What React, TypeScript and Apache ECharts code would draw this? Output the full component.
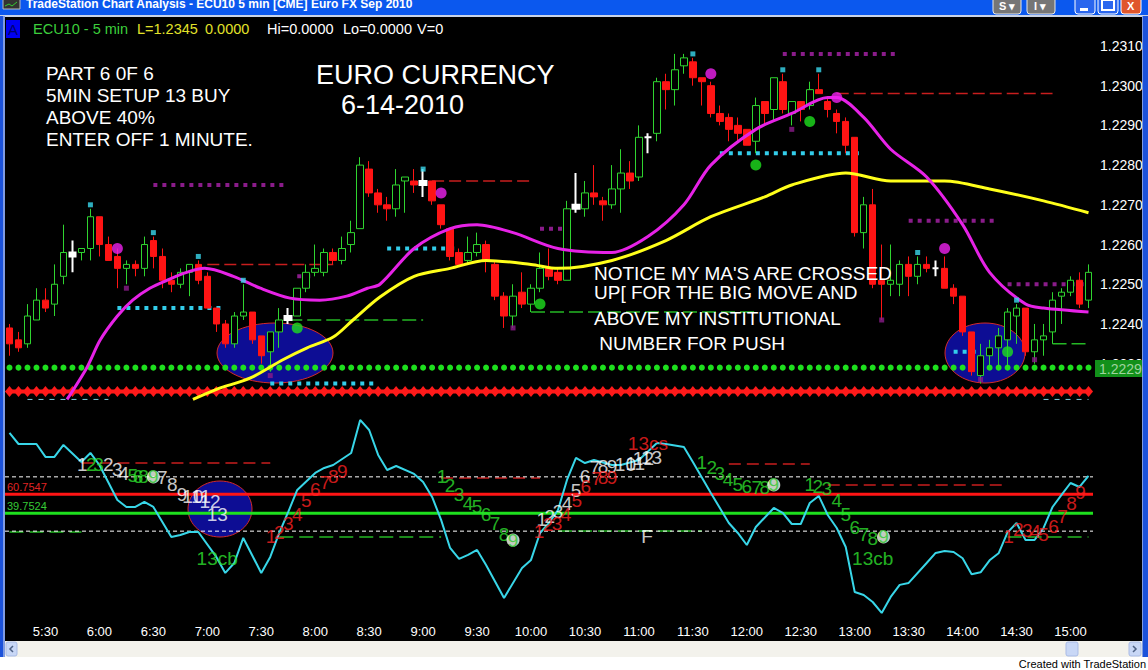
import React, { useEffect, useRef } from "react";
import * as echarts from "echarts";

// ---------- bars: 5-minute ECU10 (Euro FX Sep 2010), 5:10 – 15:10 ----------
const sessionStart = 5 * 60 + 10;
const barCount = 121;
const times: string[] = Array.from({ length: barCount }, (_, i) => {
  const m = sessionStart + 5 * i;
  return `${Math.floor(m / 60)}:${String(m % 60).padStart(2, "0")}`;
});

const opens = [
  1.2239, 1.2236, 1.2235, 1.2241, 1.2246, 1.2245, 1.2252, 1.2258, 1.2258, 1.2259,
  1.2267, 1.226, 1.2257, 1.2254, 1.2255, 1.2254, 1.2261, 1.2257, 1.2251, 1.225,
  1.2253, 1.2255, 1.2252, 1.2244, 1.224, 1.2235, 1.2242, 1.2243, 1.2237, 1.2233,
  1.2238, 1.2241, 1.2242, 1.2249, 1.2253, 1.2253, 1.2258, 1.2256, 1.226, 1.2264,
  1.2279, 1.2273, 1.227, 1.2269, 1.2276, 1.2276, 1.2276, 1.2276, 1.227, 1.2264,
  1.2258, 1.2256, 1.2258, 1.226, 1.2255, 1.2247, 1.2242, 1.2248, 1.2245, 1.2249,
  1.2254, 1.2253, 1.2251, 1.227, 1.2269, 1.2273, 1.2271, 1.227, 1.2274, 1.2278,
  1.2277, 1.2287, 1.2288, 1.2301, 1.2299, 1.2305, 1.2306, 1.2302, 1.23, 1.2293,
  1.2292, 1.229, 1.2289, 1.2286, 1.2296, 1.2294, 1.2301, 1.2293, 1.2296, 1.2295,
  1.2299, 1.2296, 1.2293, 1.2291, 1.2287, 1.2263, 1.227, 1.2251, 1.225, 1.225,
  1.2255, 1.2252, 1.2255, 1.2254, 1.2254, 1.2249, 1.2247, 1.2238, 1.2227, 1.2232,
  1.2234, 1.2236, 1.2242, 1.2244, 1.2233, 1.2236, 1.2238, 1.2247, 1.2248, 1.2251, 1.2246,
];
const closes = [
  1.2235, 1.2234, 1.2242, 1.2246, 1.2244, 1.225, 1.2258, 1.2257, 1.2259, 1.2267,
  1.226, 1.2256, 1.2254, 1.2255, 1.2254, 1.226, 1.2257, 1.2251, 1.225, 1.2253,
  1.2255, 1.2251, 1.2244, 1.224, 1.2235, 1.2242, 1.2243, 1.2236, 1.2232, 1.2238,
  1.2241, 1.2242, 1.2249, 1.2253, 1.2254, 1.2258, 1.2256, 1.2259, 1.2263, 1.228,
  1.2273, 1.227, 1.2269, 1.2275, 1.2277, 1.2275, 1.2275, 1.2271, 1.2265, 1.2257,
  1.2255, 1.2258, 1.226, 1.2256, 1.2247, 1.2242, 1.2247, 1.2245, 1.2249, 1.2254,
  1.2252, 1.2251, 1.2269, 1.2269, 1.2273, 1.2272, 1.227, 1.2274, 1.2278, 1.2276,
  1.2287, 1.2287, 1.2301, 1.2299, 1.2304, 1.2307, 1.2302, 1.2301, 1.2293, 1.2291,
  1.2289, 1.2288, 1.2285, 1.2295, 1.2293, 1.2302, 1.2294, 1.2296, 1.2294, 1.2299,
  1.2298, 1.2294, 1.2291, 1.2285, 1.2263, 1.227, 1.225, 1.225, 1.2251, 1.2255,
  1.2252, 1.2255, 1.2254, 1.2254, 1.2249, 1.2247, 1.2238, 1.2228, 1.2232, 1.2234,
  1.2237, 1.2243, 1.2244, 1.2233, 1.2236, 1.2237, 1.2246, 1.2248, 1.2251, 1.2245, 1.2253,
];
const lows = [
  1.2232, 1.2233, 1.2234, 1.2241, 1.2243, 1.2242, 1.225, 1.2253, 1.2256, 1.2256,
  1.2257, 1.2256, 1.2249, 1.225, 1.2252, 1.2252, 1.2254, 1.2249, 1.2248, 1.2249,
  1.2247, 1.225, 1.2244, 1.2238, 1.2234, 1.2234, 1.2241, 1.2235, 1.223, 1.2228,
  1.2234, 1.224, 1.2242, 1.2248, 1.2252, 1.2252, 1.2255, 1.2255, 1.2258, 1.2264,
  1.2272, 1.2268, 1.2266, 1.2267, 1.2268, 1.2273, 1.2272, 1.227, 1.2264, 1.2256,
  1.2255, 1.2255, 1.2257, 1.2253, 1.2246, 1.2239, 1.2239, 1.2244, 1.2243, 1.2248,
  1.2251, 1.225, 1.2251, 1.2268, 1.2267, 1.227, 1.2266, 1.2269, 1.2268, 1.2274,
  1.2276, 1.2283, 1.2286, 1.2294, 1.2295, 1.2303, 1.23, 1.2295, 1.2292, 1.229,
  1.2286, 1.2286, 1.2285, 1.2283, 1.229, 1.2291, 1.2293, 1.229, 1.2291, 1.2294,
  1.2298, 1.2292, 1.2288, 1.2283, 1.2262, 1.2259, 1.2249, 1.2241, 1.2247, 1.2247,
  1.2247, 1.225, 1.2253, 1.2252, 1.2249, 1.2245, 1.2237, 1.2227, 1.2225, 1.2229,
  1.2229, 1.2229, 1.2235, 1.2232, 1.223, 1.2232, 1.2235, 1.224, 1.2247, 1.2244, 1.2244,
];
const highs = [
  1.224, 1.2238, 1.2245, 1.2249, 1.2249, 1.2255, 1.2265, 1.2261, 1.2259, 1.2269,
  1.2267, 1.2262, 1.2259, 1.2256, 1.2256, 1.2262, 1.2262, 1.2259, 1.2253, 1.2254,
  1.2255, 1.2256, 1.2253, 1.2244, 1.2241, 1.2243, 1.225, 1.2243, 1.2237, 1.2238,
  1.2244, 1.2244, 1.2249, 1.2255, 1.226, 1.2259, 1.2259, 1.2262, 1.2266, 1.2282,
  1.2281, 1.2274, 1.2272, 1.2279, 1.2277, 1.2279, 1.2279, 1.2276, 1.227, 1.2264,
  1.2259, 1.2262, 1.2263, 1.2261, 1.2256, 1.2248, 1.225, 1.2253, 1.225, 1.2258,
  1.2259, 1.2254, 1.2271, 1.2278, 1.2276, 1.228, 1.2272, 1.228, 1.2284, 1.2281,
  1.229, 1.2288, 1.2302, 1.2303, 1.2308, 1.2308, 1.2307, 1.2302, 1.2301, 1.2295,
  1.2293, 1.2292, 1.2289, 1.2297, 1.2296, 1.2302, 1.2303, 1.2296, 1.2296, 1.2301,
  1.2303, 1.2297, 1.2294, 1.2292, 1.2287, 1.2272, 1.2274, 1.226, 1.226, 1.2256,
  1.2257, 1.2257, 1.2257, 1.2256, 1.2257, 1.225, 1.2247, 1.2238, 1.2235, 1.2236,
  1.2239, 1.2244, 1.2245, 1.2244, 1.224, 1.224, 1.2248, 1.2249, 1.2252, 1.2253, 1.2255,
];
// bars painted white by the signal study
const signalBars = [7, 31, 46, 63, 71, 103];

// moving averages, [bar, price]
const fastMA: [number, number][] = [
  [6.4, 1.2221], [8.6, 1.2229], [10.1, 1.2236], [12, 1.2242], [13.7, 1.2246], [15.6, 1.2249],
  [17.5, 1.2251], [19.7, 1.2253], [21.7, 1.2254], [24.9, 1.2252], [27.9, 1.2249], [31.2, 1.22465],
  [34.5, 1.2246], [37.5, 1.2247], [39.8, 1.2249], [41.2, 1.225], [45, 1.2259],
  [49, 1.2264], [52, 1.2265], [56, 1.2263], [61, 1.2259], [67, 1.2258], [71, 1.2262],
  [75, 1.227], [78, 1.228], [83, 1.2289], [87, 1.2293], [91, 1.2297], [92, 1.2297],
  [95, 1.2292], [98, 1.2284], [102, 1.2277], [106, 1.2265], [109, 1.2253],
  [113, 1.2245], [115, 1.2244], [120, 1.2243],
];
const slowMA: [number, number][] = [
  [20.4, 1.2221], [23.1, 1.22236], [26.8, 1.22264], [30.4, 1.2231], [33.1, 1.2234], [36, 1.22367],
  [38.2, 1.2241], [41.2, 1.22468], [45, 1.2252], [49, 1.2254], [53, 1.2256], [58, 1.2255],
  [61, 1.2254], [67, 1.2256], [73, 1.2261], [78, 1.2267], [84, 1.2272], [87, 1.2275],
  [93, 1.2278], [98, 1.2276], [104, 1.2276], [109, 1.2274], [115, 1.2271], [120, 1.2268],
];

// horizontal study levels
const supportRow = 1.2229;
const pivotRow = 1.2223;
type Seg = [number, number, number]; // from bar, to bar, level
const cyanDotted: Seg[] = [[12, 24, 1.2244], [42, 50, 1.2259], [79, 95, 1.2283], [29, 41, 1.2225], [105, 108, 1.2233]];
const purpleDotted: Seg[] = [[16, 31, 1.2275], [32, 34, 1.2252], [59, 63, 1.2264], [86, 99, 1.2308], [100, 110, 1.2266], [111, 120, 1.225]];
const redDashed: Seg[] = [[22, 36, 1.2255], [47, 58, 1.2276], [92, 116, 1.2298]];
const greenDashed: Seg[] = [[31, 46, 1.2241], [58, 83, 1.2243], [116, 120, 1.2235]];
const lowDashed: Seg[] = [[2, 11, 1.2221], [115, 120, 1.2221]];

// study dots, [bar, price]
const magentaDots: [number, number][] = [[12, 1.2259], [48, 1.2273], [78, 1.2303], [92, 1.2297], [104, 1.2259]];
const greenDots: [number, number][] = [[32, 1.2239], [59, 1.2245], [83, 1.228], [89, 1.2291], [111, 1.2233]];
const cyanPips: [number, number][] = [[9, 1.227], [16, 1.2263], [21, 1.2257], [26, 1.2251], [46, 1.2279], [76, 1.2308], [86, 1.2304], [90, 1.2304], [101, 1.2258], [112, 1.2246]];
const purplePips: [number, number][] = [[13, 1.2249], [29, 1.2227], [56, 1.2239], [87, 1.2289], [97, 1.2241], [108, 1.2226], [114, 1.2231]];

// oscillator, [bar, value]
const oscillator: [number, number][] = [
  [0, 128.5], [1, 116.3], [3, 116.3], [4, 102], [5, 102], [6, 115.3], [8, 96.5], [9, 106.4], [10, 93.1],
  [12, 54.4], [13, 46.7], [14, 46.7], [15, 52.3], [16, 46.7], [18, 13.6], [19, 15.8], [20, 19.1], [21, 19.1],
  [23, -8.5], [24, -26.2], [25, -15.2], [26, 12.5], [28, -26.2], [29, -8.5], [30, 18], [31, 41.2], [32, 65.5],
  [34, 84.3], [35, 89.8], [36, 93.1], [38, 106.4], [39, 142.9], [40, 131.8], [41, 104.2], [42, 87.6], [43, 92],
  [45, 83.2], [46, 74.3], [47, 57.8], [48, 32.4], [49, 1.4], [50, -10.7], [51, -6.3], [52, -0.8], [53, -17.4],
  [55, -53.8], [57, -20.7], [58, -11.8], [59, 18], [60, 29], [61, 43.4], [62, 76.6], [63, 100.9], [64, 95.3],
  [65, 98.6], [67, 93.1], [68, 93.1], [70, 98.6], [72, 117.4], [73, 116.3], [75, 113], [76, 96.4], [78, 62.2],
  [80, 29], [81, 18], [82, 4.7], [83, 24.6], [85, 45.6], [86, 40.1], [87, 27.9], [88, 27.9], [89, 51.1],
  [90, 58.9], [91, 37.9], [92, 23.5], [93, 2.5], [94, -47.2], [95, -50.5], [96, -58.3], [97, -70.4], [98, -52.7],
  [99, -39.4], [100, -37.2], [102, -15.2], [103, -4.1], [104, -1.9], [105, -3], [106, -10], [107, -27.7],
  [108, -25.5], [109, -12.2], [110, -4.5], [111, 18.7], [112, 29], [113, 10.2], [114, 10.2], [115, 23.5],
  [116, 46.7], [117, 60], [118, 73.2], [119, 68.8], [120, 81],
];
const upperBand = 60.7547;
const lowerBand = 39.7524;
const overbought = 80;
const oversold = 20;
const oscRedDashed: Seg[] = [[8, 29, 95.3], [48, 59, 78.8], [80, 89, 94.2], [91, 111, 71]];
const oscGreenDashed: Seg[] = [[0, 8, 19.1], [30, 48, 13.6], [61, 77, 20.2], [111, 120, 13.6]];

// setup / countdown counts, [bar, value, text]
type Count = [number, number, string];
const whiteCounts: Count[] = [
  [8.1, 93.1, "1"], [11, 94.2, "2"], [12, 87.6, "3"], [12.7, 83.2, "4"], [17, 78.8, "7"], [18.1, 71, "8"],
  [19.2, 60, "9"], [20.4, 57.8, "10"], [21.3, 57.8, "11"], [22.3, 52.3, "12"], [23.1, 37.9, "13"],
  [59.2, 32.4, "1"], [60.1, 35.7, "2"], [61, 41.2, "3"], [62, 51.1, "4"], [63, 64.4, "5"], [64, 79.9, "6"],
  [65.1, 89.8, "7"], [66, 90.9, "8"], [67, 90.9, "9"], [68.5, 94.2, "10"], [69.6, 95.3, "11"],
  [70.5, 99.8, "12"], [71.4, 100.9, "13"], [70.9, 13.6, "F"],
];
const greenCounts: Count[] = [
  [9.1, 94.2, "2"], [9.9, 93.1, "3"], [13.7, 81, "5"], [14.3, 79.9, "6"], [14.9, 79.9, "8"], [23.1, -10.7, "13cb"],
  [48.1, 79.9, "1"], [49, 69.9, "2"], [50, 60, "3"], [51, 50, "4"], [52, 46.7, "5"], [53, 37.9, "6"],
  [54, 27.9, "7"], [55, 15.8, "8"],
  [77, 96.4, "1"], [78.1, 89.8, "2"], [79, 83.2, "3"], [79.9, 76.6, "4"], [81, 71, "5"], [82, 68.8, "6"],
  [83.1, 67.7, "7"], [84, 67.7, "8"],
  [89, 71, "1"], [89.9, 68.8, "2"], [90.9, 66.6, "3"], [92, 54.4, "4"], [93, 37.9, "5"], [94, 23.5, "6"],
  [95, 15.8, "7"], [96, 11.4, "8"], [96, -10.7, "13cb"],
];
const greenNines: Count[] = [[16, 79.9, "9"], [56, 10.2, "9"], [85, 71, "9"], [97.2, 13.6, "9"]];
const redCounts: Count[] = [
  [29.1, 13.6, "1"], [30, 18, "2"], [31, 29, "3"], [32, 37.9, "4"], [33, 54.4, "5"], [34, 65.5, "6"],
  [35.1, 74.3, "7"], [36, 79.9, "8"], [37, 85.4, "9"],
  [58.9, 19.1, "1"], [59.9, 26.8, "2"], [60.9, 29, "3"], [61.9, 37.9, "4"], [63.1, 53.4, "5"], [64.1, 68.8, "6"],
  [65.3, 77.7, "7"], [66, 78.8, "8"], [67, 78.8, "9"], [71, 117.4, "13cs"],
  [111.1, 13.6, "1"], [112.2, 21.3, "2"], [113.2, 20.2, "3"], [114.1, 19.1, "4"], [115, 15.8, "5"],
  [116.1, 24.6, "6"], [117.1, 35.7, "7"], [118.1, 51.1, "8"], [119.1, 62.2, "9"],
];

// axes
const priceMin = 1.222;
const priceMax = 1.2315;
const priceStep = 0.001;
const oscMin = -80.4;
const oscMax = 159.4;
const lastPrice = 1.2229;

const SANS = '"Liberation Sans", Arial, sans-serif';
const NARROW = '"Liberation Sans Narrow", "Liberation Sans", Arial, sans-serif';

const UP = "#2fd42f";
const DOWN = "#ff1414";

function segments(segs: Seg[], color: string, width: number, dash: number[], xi: number, yi: number, z: number) {
  return segs.map(([a, b, lv]) => ({
    type: "line",
    xAxisIndex: xi,
    yAxisIndex: yi,
    data: [[a, lv], [b, lv]],
    symbol: "none",
    silent: true,
    z,
    lineStyle: { color, width, type: dash, cap: "butt" },
  }));
}

function levelLine(level: number, color: string, width: number, dash: any) {
  return {
    type: "line",
    xAxisIndex: 3,
    yAxisIndex: 1,
    data: [[-0.5, level], [barCount - 0.5, level]],
    symbol: "none",
    silent: true,
    z: 3,
    lineStyle: { color, width, type: dash },
  };
}

function countSeries(pts: Count[], color: string, z: number) {
  return {
    type: "scatter",
    xAxisIndex: 3,
    yAxisIndex: 1,
    symbolSize: 1,
    silent: true,
    z,
    itemStyle: { color: "rgba(0,0,0,0)" },
    data: pts.map(([x, y, t]) => ({ value: [x, y], name: t })),
    label: { show: true, position: "inside", formatter: "{b}", color, fontSize: 19, fontFamily: SANS },
  };
}

function dots(pts: [number, number][], color: string, size: number, symbol: string, z: number) {
  return {
    type: "scatter",
    xAxisIndex: 2,
    yAxisIndex: 0,
    symbol,
    symbolSize: size,
    silent: true,
    z,
    itemStyle: { color },
    data: pts,
  };
}

function txt(x: number, y: number, text: string, fill: string, fontSize: number, extra: any = {}, z = 50) {
  return {
    type: "text",
    x,
    y,
    z,
    silent: true,
    style: { text, fill, fontSize, fontFamily: SANS, verticalAlign: "middle", align: "left", ...extra },
  };
}

function buildOption(): any {
  const candleData = opens.map((o, i) => {
    const item: any = { value: [o, closes[i], lows[i], highs[i]] };
    if (signalBars.includes(i)) {
      item.itemStyle = { color: "#ffffff", color0: "#ffffff", borderColor: "#ffffff", borderColor0: "#ffffff", borderWidth: 2 };
    }
    return item;
  });

  const notes = ["PART 6 0F 6", "5MIN SETUP 13 BUY", "ABOVE 40%", "ENTER OFF 1 MINUTE."];
  const notice = ["NOTICE MY MA'S ARE CROSSED", "UP[ FOR THE BIG MOVE AND", "ABOVE MY INSTITUTIONAL", " NUMBER FOR PUSH"];
  const noticeY = [273, 292, 318, 343];

  const chrome: any[] = [
    // title bar
    { type: "rect", z: 100, shape: { x: 0, y: 0, width: 1148, height: 16 }, style: { fill: "#0b58ee" } },
    { type: "rect", z: 100, shape: { x: 0, y: 15, width: 1148, height: 2 }, style: { fill: "#c9d3e6" } },
    { type: "rect", z: 101, shape: { x: 3, y: -1, width: 17, height: 10 }, style: { fill: "#333", stroke: "#bbb", lineWidth: 1 } },
    { type: "polyline", z: 102, shape: { points: [[5, 6], [9, 4], [12, 6], [17, 2]] }, style: { stroke: "#3c3", lineWidth: 1, fill: null } },
    txt(26, 4, "TradeStation Chart Analysis - ECU10 5 min [CME] Euro FX Sep 2010", "#ffffff", 12, { fontWeight: "bold" }, 105),
    { type: "rect", z: 101, shape: { x: 993, y: -4, width: 28, height: 18, r: 3 }, style: { fill: "#767676", stroke: "#e8e8e8", lineWidth: 1 } },
    txt(999, 6, "S ▾", "#ffffff", 11, { fontWeight: "bold" }, 105),
    { type: "rect", z: 101, shape: { x: 1027, y: -4, width: 28, height: 18, r: 3 }, style: { fill: "#767676", stroke: "#e8e8e8", lineWidth: 1 } },
    txt(1034, 6, "I ▾", "#ffffff", 11, { fontWeight: "bold" }, 105),
    { type: "rect", z: 101, shape: { x: 1075, y: -4, width: 20, height: 18, r: 3 }, style: { fill: "#2a66ee", stroke: "#ffffff", lineWidth: 1 } },
    { type: "rect", z: 102, shape: { x: 1080, y: 8, width: 8, height: 3 }, style: { fill: "#ffffff" } },
    { type: "rect", z: 101, shape: { x: 1098, y: -4, width: 20, height: 18, r: 3 }, style: { fill: "#2a66ee", stroke: "#ffffff", lineWidth: 1 } },
    { type: "rect", z: 102, shape: { x: 1102, y: 0, width: 12, height: 10 }, style: { fill: null, stroke: "#ffffff", lineWidth: 2 } },
    { type: "rect", z: 101, shape: { x: 1121, y: -4, width: 20, height: 18, r: 3 }, style: { fill: "#e0562c", stroke: "#ffffff", lineWidth: 1 } },
    txt(1127, 6, "X", "#ffffff", 11, { fontWeight: "bold" }, 105),
    // window frame
    { type: "rect", z: 100, shape: { x: 0, y: 16, width: 3, height: 642 }, style: { fill: "#1c52da" } },
    { type: "rect", z: 100, shape: { x: 3, y: 16, width: 2, height: 642 }, style: { fill: "#7f9be2" } },
    { type: "rect", z: 100, shape: { x: 1142, y: 16, width: 1, height: 642 }, style: { fill: "#7f9be2" } },
    { type: "rect", z: 100, shape: { x: 1143, y: 16, width: 5, height: 642 }, style: { fill: "#1c52da" } },
    // scroll bar and footer
    { type: "rect", z: 100, shape: { x: 0, y: 657, width: 1148, height: 13 }, style: { fill: "#ffffff" } },
    { type: "rect", z: 100, shape: { x: 5, y: 641, width: 1137, height: 16 }, style: { fill: "#f3f2ec" } },
    { type: "rect", z: 101, shape: { x: 6, y: 642, width: 11, height: 14, r: 2 }, style: { fill: "#c8d7f6", stroke: "#a9bbe6", lineWidth: 1 } },
    { type: "polyline", z: 102, shape: { points: [[13, 646], [10, 649], [13, 652]] }, style: { stroke: "#4d6185", lineWidth: 1.5, fill: null } },
    { type: "rect", z: 101, shape: { x: 1066, y: 642, width: 12, height: 14, r: 2 }, style: { fill: "#c8d7f6", stroke: "#a9bbe6", lineWidth: 1 } },
    { type: "rect", z: 101, shape: { x: 1129, y: 642, width: 12, height: 14, r: 2 }, style: { fill: "#c8d7f6", stroke: "#a9bbe6", lineWidth: 1 } },
    { type: "polyline", z: 102, shape: { points: [[1133, 646], [1136, 649], [1133, 652]] }, style: { stroke: "#4d6185", lineWidth: 1.5, fill: null } },
    txt(1146, 664, "Created with TradeStation", "#000000", 11, { align: "right", fontFamily: NARROW }, 105),
    // symbol status line
    { type: "rect", z: 100, shape: { x: 6, y: 20, width: 14, height: 18 }, style: { fill: "#0000f2" } },
    txt(8, 29, "A", "#000070", 15, {}, 105),
    txt(33, 29, "ECU10 - 5 min", "#3ccf3c", 14.5),
    txt(137, 29, "L=1.2345", "#e2e22a", 14.5),
    txt(205, 29, "0.0000", "#e2e22a", 14.5),
    txt(267, 29, "Hi=0.0000", "#ffffff", 14.5),
    txt(343, 29, "Lo=0.0000", "#ffffff", 14.5),
    txt(417, 29, "V=0", "#ffffff", 14.5),
    // last price tag
    { type: "rect", z: 100, shape: { x: 1095, y: 360, width: 47, height: 17 }, style: { fill: "#12901a" } },
    txt(1099, 369, lastPrice.toFixed(4), "#9fd49f", 14, { fontFamily: NARROW }, 105),
    // band labels
    txt(7, 487, upperBand.toFixed(4), "#e02424", 11),
    txt(7, 506, lowerBand.toFixed(4), "#36c836", 11),
    // highlight ellipses
    { type: "ellipse", z: 1, shape: { cx: 275, cy: 353, rx: 58, ry: 30 }, style: { fill: "#0d0d94", stroke: "#d42a2a", lineWidth: 1 } },
    { type: "ellipse", z: 1, shape: { cx: 985, cy: 353, rx: 40, ry: 30 }, style: { fill: "#0d0d94", stroke: "#d42a2a", lineWidth: 1 } },
    { type: "ellipse", z: 1, shape: { cx: 220, cy: 509, rx: 32, ry: 28 }, style: { fill: "#0d0d94", stroke: "#d42a2a", lineWidth: 1 } },
    // notes
    ...notes.map((t, k) => txt(46, 73 + k * 22.3, t, "#ffffff", 19)),
    txt(316, 75, "EURO CURRENCY", "#ffffff", 27),
    txt(341, 105, "6-14-2010", "#ffffff", 27),
    ...notice.map((t, k) => txt(594, noticeY[k], t, "#ffffff", 19)),
  ];

  return {
    animation: false,
    backgroundColor: "#000000",
    grid: [
      { left: 5, right: 55, top: 26.1, height: 377.3 },
      { left: 5, right: 55, top: 405, height: 217 },
    ],
    xAxis: [
      { type: "category", gridIndex: 0, data: times, boundaryGap: true, show: false },
      {
        type: "category",
        gridIndex: 1,
        data: times,
        boundaryGap: true,
        axisLine: { show: false },
        axisTick: { show: false },
        splitLine: { show: false },
        axisLabel: {
          color: "#ffffff",
          fontSize: 13,
          fontFamily: NARROW,
          margin: 3,
          interval: (_i: number, v: string) => /:(00|30)$/.test(v),
        },
      },
      { type: "value", gridIndex: 0, min: -0.5, max: barCount - 0.5, show: false },
      { type: "value", gridIndex: 1, min: -0.5, max: barCount - 0.5, show: false },
    ],
    yAxis: [
      {
        type: "value",
        gridIndex: 0,
        position: "right",
        min: priceMin,
        max: priceMax,
        interval: priceStep,
        splitLine: { show: false },
        axisLine: { show: false },
        axisTick: { show: false },
        axisLabel: {
          color: "#ffffff",
          fontSize: 14,
          fontFamily: NARROW,
          margin: 7,
          showMaxLabel: false,
          showMinLabel: false,
          formatter: (v: number) => (v > priceMax - priceStep / 2 ? "" : v.toFixed(4)),
        },
      },
      { type: "value", gridIndex: 1, min: oscMin, max: oscMax, show: false, splitLine: { show: false } },
    ],
    graphic: { elements: chrome },
    series: [
      {
        type: "candlestick",
        xAxisIndex: 0,
        yAxisIndex: 0,
        barWidth: 7,
        z: 3,
        silent: true,
        itemStyle: { color: "#000000", color0: DOWN, borderColor: UP, borderColor0: DOWN, borderWidth: 1 },
        data: candleData,
      },
      {
        type: "line",
        xAxisIndex: 0,
        yAxisIndex: 0,
        data: times.map(() => supportRow),
        symbol: "circle",
        symbolSize: 6,
        showAllSymbol: true,
        silent: true,
        z: 2,
        itemStyle: { color: "#1ee01e" },
        lineStyle: { width: 0, opacity: 0 },
      },
      {
        type: "line",
        xAxisIndex: 0,
        yAxisIndex: 0,
        data: times.map(() => pivotRow),
        symbol: "diamond",
        symbolSize: [9, 11],
        showAllSymbol: true,
        silent: true,
        z: 2,
        itemStyle: { color: "#ff1a1a" },
        lineStyle: { width: 4, color: "#ff1a1a" },
      },
      ...segments(cyanDotted, "#33cdea", 4, [4, 5], 2, 0, 2),
      ...segments(purpleDotted, "#8a1c8a", 4, [4, 5], 2, 0, 2),
      ...segments(redDashed, "#c81e1e", 1.5, [12, 5], 2, 0, 2),
      ...segments(greenDashed, "#25b825", 1.5, [14, 5], 2, 0, 2),
      ...segments(lowDashed, "#7fcfe0", 1, [5, 6], 2, 0, 2),
      {
        type: "line",
        xAxisIndex: 2,
        yAxisIndex: 0,
        data: slowMA,
        smooth: 0.3,
        symbol: "none",
        silent: true,
        z: 4,
        lineStyle: { color: "#ffff1a", width: 3 },
      },
      {
        type: "line",
        xAxisIndex: 2,
        yAxisIndex: 0,
        data: fastMA,
        smooth: 0.3,
        symbol: "none",
        silent: true,
        z: 4,
        lineStyle: { color: "#e622e6", width: 3 },
      },
      dots(magentaDots, "#ee22ee", 11, "circle", 5),
      dots(greenDots, "#1ee01e", 11, "circle", 5),
      dots(cyanPips, "#3ad8ee", 5, "rect", 5),
      dots(purplePips, "#8a1c8a", 5, "rect", 5),
      // oscillator pane
      levelLine(overbought, "#ffffff", 1, [4, 3]),
      levelLine(oversold, "#ffffff", 1, [4, 3]),
      levelLine(upperBand, "#ff1414", 3, "solid"),
      levelLine(lowerBand, "#1ee01e", 3, "solid"),
      ...segments(oscRedDashed, "#c81e1e", 1.5, [12, 6], 3, 1, 2),
      ...segments(oscGreenDashed, "#25b825", 1.5, [14, 6], 3, 1, 2),
      {
        type: "line",
        xAxisIndex: 3,
        yAxisIndex: 1,
        data: oscillator,
        symbol: "none",
        silent: true,
        z: 4,
        lineStyle: { color: "#38d6e8", width: 2 },
      },
      countSeries(whiteCounts, "#ffffff", 6),
      countSeries(greenCounts, "#2ee02e", 6),
      countSeries(redCounts, "#ff2020", 6),
      {
        type: "scatter",
        xAxisIndex: 3,
        yAxisIndex: 1,
        symbol: "circle",
        symbolSize: 13,
        silent: true,
        z: 7,
        itemStyle: { color: "#f2fff2" },
        data: greenNines.map(([x, y, t]) => ({ value: [x, y], name: t })),
        label: { show: true, position: "inside", formatter: "{b}", color: "#2ec82e", fontSize: 19, fontFamily: SANS },
      },
    ],
  };
}

export default function App() {
  const ref = useRef<HTMLDivElement>(null);
  useEffect(() => {
    document.body.style.margin = "0";
    const chart = echarts.init(ref.current!, null, { renderer: "svg" });
    chart.setOption(buildOption());
    return () => chart.dispose();
  }, []);
  return <div ref={ref} style={{ position: "absolute", left: 0, top: 0, width: 1148, height: 670 }} />;
}
